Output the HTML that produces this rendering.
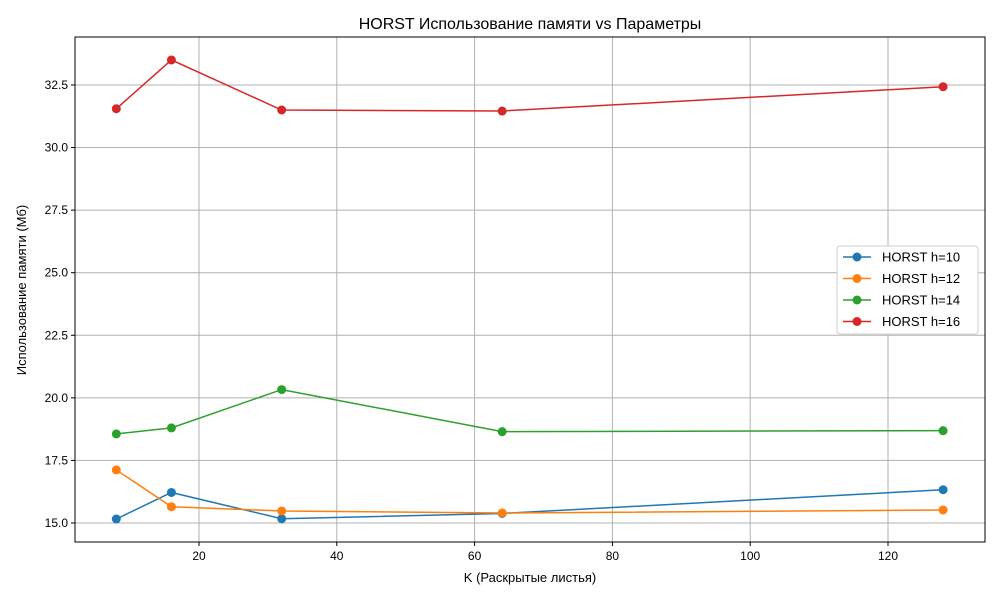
<!DOCTYPE html>
<html><head><meta charset="utf-8"><style>body{margin:0;background:#fff}svg text{font-family:"Liberation Sans","DejaVu Sans",sans-serif}</style></head>
<body>
<svg id="c" width="1000" height="600" xmlns="http://www.w3.org/2000/svg"></svg>
<script>
const categories=[8,16,32,64,128];
const h10=[15.16,16.22,15.17,15.38,16.33];
const h12=[17.12,15.65,15.48,15.4,15.52];
const h14=[18.56,18.8,20.33,18.65,18.69];
const h16=[31.55,33.5,31.5,31.46,32.43];
const xTicks=[20,40,60,80,100,120];
const yTicks=[15.0,17.5,20.0,22.5,25.0,27.5,30.0,32.5];
const L=75,R=985,T=37,B=542;
const X=v=>61.2+v*6.89, Y=v=>523-(v-15)*25.03;
const s=document.getElementById('c'),NS='http://www.w3.org/2000/svg';
function el(t,a,p){const e=document.createElementNS(NS,t);for(const k in a)e.setAttribute(k,a[k]);(p||s).appendChild(e);return e;}
const grid=el('g',{});


xTicks.forEach(v=>{el('line',{x1:X(v),x2:X(v),y1:T,y2:B,stroke:'#b0b0b0','stroke-width':1},grid);el('line',{x1:X(v),x2:X(v),y1:B,y2:B+4,stroke:'#000'});const t=el('text',{x:X(v),y:B+18,'text-anchor':'middle','font-size':12});t.textContent=v;});
yTicks.forEach(v=>{el('line',{x1:L,x2:R,y1:Y(v),y2:Y(v),stroke:'#b0b0b0','stroke-width':1},grid);el('line',{x1:L-4,x2:L,y1:Y(v),y2:Y(v),stroke:'#000'});const t=el('text',{x:L-7,y:Y(v)+4,'text-anchor':'end','font-size':12});t.textContent=v.toFixed(1);});
const series=[["HORST h=10",h10,'#1f77b4'],["HORST h=12",h12,'#ff7f0e'],["HORST h=14",h14,'#2ca02c'],["HORST h=16",h16,'#d62728']];
series.forEach(([n,d,c],i)=>{const g=el('g',{});
el('polyline',{points:d.map((v,j)=>X(categories[j])+','+Y(v)).join(' '),fill:'none',stroke:c,'stroke-width':1.5},g);
d.forEach((v,j)=>{const p=el('circle',{cx:X(categories[j]),cy:Y(v),r:4.5,fill:c},g);});});
el('rect',{x:L,y:T,width:R-L,height:B-T,fill:'none',stroke:'#000','stroke-width':1});
const lg=el('g',{});
el('rect',{x:837,y:246,width:141,height:88,fill:'#fff',stroke:'#ccc',rx:3},lg);
series.forEach(([n,d,c],i)=>{const y=257+i*21.5;el('line',{x1:843,x2:871,y1:y,y2:y,stroke:c,'stroke-width':1.5},lg);el('circle',{cx:857,cy:y,r:4.5,fill:c},lg);const t=el('text',{x:882,y:y+4.5,'font-size':13},lg);t.textContent=n;});
let t=el('text',{x:530,y:29,'text-anchor':'middle','font-size':16});t.textContent='HORST Использование памяти vs Параметры';
t=el('text',{x:530,y:582,'text-anchor':'middle','font-size':13});t.textContent='K (Раскрытые листья)';
t=el('text',{x:26,y:290,'text-anchor':'middle','font-size':13,transform:'rotate(-90 26 290)'});t.textContent='Использование памяти (Мб)';
</script>
</body></html>
